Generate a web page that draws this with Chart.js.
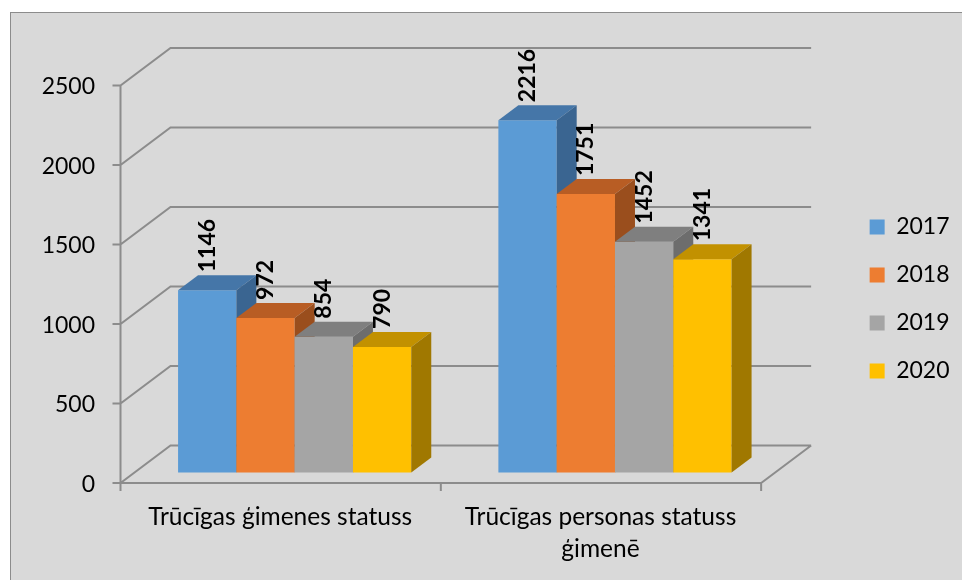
<!DOCTYPE html>
<html>
<head>
<meta charset="utf-8">
<script src="https://cdn.jsdelivr.net/npm/chart.js@4.4.0/dist/chart.umd.min.js"></script>
<style>
  html, body { margin: 0; padding: 0; background: #fff; }
  #wrap { position: absolute; left: 0; top: 0; width: 962px; height: 580px; overflow: hidden; }
  #bg { position: absolute; left: 10px; top: 12px; width: 960px; height: 580px; background: #d9d9d9; border: 1px solid #8c8c8c; }
  canvas { position: absolute; left: 0; top: 0; }
</style>
</head>
<body>
<div id="wrap"><div id="bg"></div><canvas id="chart" width="962" height="580"></canvas></div>
<script>
// data
const categories = ['Trūcīgas ģimenes statuss', ['Trūcīgas personas statuss', 'ģimenē']];
const years = ['2017', '2018', '2019', '2020'];
const values2017 = [1146, 2216];
const values2018 = [972, 1751];
const values2019 = [854, 1452];
const values2020 = [790, 1341];
const yTicks = [0, 500, 1000, 1500, 2000, 2500];

// colours: front / top / side of each 3d bar
const frontColors = ['#5B9BD5', '#ED7D31', '#A5A5A5', '#FFC000'];
const topColors = ['#4576A8', '#B85D24', '#7F7F7F', '#C29100'];
const sideColors = ['#3A6591', '#9A4E1D', '#6D6D6D', '#A07800'];

// 3d offsets relative to the plane of the bars
const FRONT = { dx: -14, dy: 10.5 };
const BACK = { dx: 36, dy: -27 };
const DEPTH = { dx: 20, dy: -15 };
const LINE = '#8c8c8c';

Chart.defaults.font.family = 'Lato, "Noto Sans", sans-serif';
Chart.defaults.color = '#000';

const bars3d = {
  id: 'bars3d',
  // walls, floor and axis lines
  beforeDatasetsDraw(chart) {
    const { ctx, chartArea: ca, scales: { x, y } } = chart;
    const y0 = y.getPixelForValue(0);
    const yMax = y.getPixelForValue(y.max);
    ctx.save();
    ctx.strokeStyle = LINE;
    ctx.lineWidth = 2;
    ctx.beginPath();
    y.ticks.forEach(t => {
      const py = y.getPixelForValue(t.value);
      ctx.moveTo(ca.left + FRONT.dx - 8, py + FRONT.dy);
      ctx.lineTo(ca.left + FRONT.dx, py + FRONT.dy);
      ctx.lineTo(ca.left + BACK.dx, py + BACK.dy);
      ctx.lineTo(ca.right + BACK.dx, py + BACK.dy);
    });
    ctx.moveTo(ca.left + FRONT.dx, yMax + FRONT.dy);
    ctx.lineTo(ca.left + FRONT.dx, y0 + FRONT.dy);
    ctx.lineTo(ca.right + FRONT.dx, y0 + FRONT.dy);
    ctx.lineTo(ca.right + BACK.dx, y0 + BACK.dy);
    const slot = x.width / categories.length;
    for (let i = 0; i <= categories.length; i++) {
      const px = x.left + i * slot + FRONT.dx;
      ctx.moveTo(px, y0 + FRONT.dy);
      ctx.lineTo(px, y0 + FRONT.dy + 8);
    }
    ctx.stroke();
    ctx.restore();
  },
  // bars are drawn below, left to right
  beforeDatasetDraw() {
    return false;
  },
  afterDatasetsDraw(chart) {
    const ctx = chart.ctx;
    const poly = (pts, color) => {
      ctx.fillStyle = color;
      ctx.beginPath();
      pts.forEach(([px, py], i) => i ? ctx.lineTo(px, py) : ctx.moveTo(px, py));
      ctx.closePath();
      ctx.fill();
    };
    chart.data.datasets.forEach((ds, di) => {
      chart.getDatasetMeta(di).data.forEach(bar => {
        const { x, y, base, width } = bar.getProps(['x', 'y', 'base', 'width'], true);
        const l = x - width / 2, r = x + width / 2;
        bar.draw(ctx);
        poly([[l, y], [r, y], [r + DEPTH.dx, y + DEPTH.dy], [l + DEPTH.dx, y + DEPTH.dy]], topColors[di]);
        poly([[r, y], [r + DEPTH.dx, y + DEPTH.dy], [r + DEPTH.dx, base + DEPTH.dy], [r, base]], sideColors[di]);
      });
    });
    // value labels, rotated
    ctx.save();
    ctx.font = 'bold 23px Lato, "Noto Sans", sans-serif';
    ctx.fillStyle = '#000';
    ctx.textAlign = 'left';
    ctx.textBaseline = 'middle';
    chart.data.datasets.forEach((ds, di) => {
      chart.getDatasetMeta(di).data.forEach((bar, i) => {
        ctx.save();
        ctx.translate(bar.x, bar.y + DEPTH.dy - 3);
        ctx.rotate(-Math.PI / 2);
        ctx.fillText(String(ds.data[i]), 0, 0);
        ctx.restore();
      });
    });
    ctx.restore();
  }
};

const series = [values2017, values2018, values2019, values2020];

new Chart(document.getElementById('chart'), {
  type: 'bar',
  data: {
    labels: categories,
    datasets: series.map((vals, i) => ({
      label: years[i],
      data: vals,
      backgroundColor: frontColors[i],
      borderWidth: 0,
      categoryPercentage: 0.728,
      barPercentage: 1
    }))
  },
  options: {
    responsive: false,
    animation: false,
    layout: { padding: { top: 18, right: 2.5, bottom: 0, left: 0 } },
    plugins: {
      tooltip: { enabled: false },
      legend: {
        position: 'right',
        labels: { boxWidth: 15, boxHeight: 15, padding: 25, font: { size: 23 } }
      }
    },
    scales: {
      x: {
        grid: { display: false, drawTicks: false },
        border: { display: false },
        ticks: { font: { size: 24.5, lineHeight: 1.3 }, padding: 29, labelOffset: -14.5, maxRotation: 0, autoSkip: false },
        afterFit: s => { s.height = 107.5; }
      },
      y: {
        min: yTicks[0],
        max: yTicks[yTicks.length - 1],
        grid: { display: false, drawTicks: false },
        border: { display: false },
        ticks: { stepSize: 500, font: { size: 23 }, padding: 39.5, labelOffset: 12, callback: v => String(v) },
        afterFit: s => { s.width = 134.5; }
      },
      // empty axes that only reserve space
      xTop: {
        type: 'linear', position: 'top',
        grid: { display: false }, border: { display: false }, ticks: { display: false },
        afterFit: s => { s.height = 57; }
      },
      yRight: {
        type: 'linear', position: 'right',
        grid: { display: false }, border: { display: false }, ticks: { display: false },
        afterFit: s => { s.width = 69.5; }
      }
    }
  },
  plugins: [bars3d]
});
</script>
</body>
</html>
